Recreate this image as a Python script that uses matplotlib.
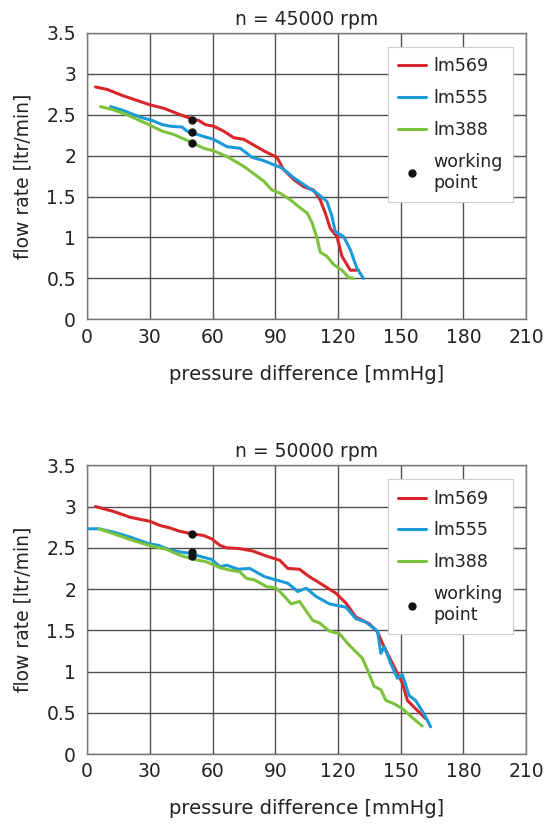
import matplotlib
matplotlib.use('Agg')
import matplotlib.pyplot as plt

plt.rcParams['font.family'] = ['DejaVu Sans']

# ---- n = 45000 rpm ----
x569_45 = [4.0, 9.6, 17.5, 30.3, 36.6, 44.6, 50.2, 53.4, 56.5, 60.5, 65.3, 70.1, 74.9, 79.7,
           85.2, 90.8, 94.0, 98.8, 103.6, 108.3, 111.5, 113.9, 116.3, 119.5, 121.9, 125.9, 129.9]
y569_45 = [2.84, 2.81, 2.73, 2.62, 2.58, 2.50, 2.45, 2.43, 2.38, 2.36, 2.30, 2.22, 2.20, 2.13,
           2.05, 1.98, 1.83, 1.71, 1.62, 1.58, 1.46, 1.30, 1.11, 1.01, 0.77, 0.60, 0.60]

x555_45 = [11.2, 17.5, 25.5, 31.1, 35.9, 39.8, 45.4, 47.8, 50.2, 55.0, 60.5, 66.9, 73.3, 78.9,
           84.4, 89.2, 93.2, 98.8, 105.2, 110.0, 114.7, 117.1, 118.7, 122.7, 125.9, 129.1, 132.2]
y555_45 = [2.60, 2.55, 2.47, 2.43, 2.38, 2.36, 2.35, 2.30, 2.28, 2.24, 2.20, 2.11, 2.09, 1.98,
           1.94, 1.89, 1.85, 1.73, 1.62, 1.54, 1.44, 1.26, 1.07, 1.01, 0.85, 0.62, 0.50]

x388_45 = [6.4, 12.7, 19.1, 30.3, 35.9, 41.4, 50.2, 55.8, 60.5, 66.9, 74.9, 78.1, 84.4, 88.4,
           92.4, 97.2, 102.0, 105.2, 107.6, 110.0, 111.5, 114.7, 117.9, 121.9, 125.1, 127.5]
y388_45 = [2.60, 2.56, 2.50, 2.37, 2.30, 2.26, 2.16, 2.09, 2.06, 1.99, 1.87, 1.81, 1.69, 1.58,
           1.54, 1.46, 1.36, 1.30, 1.18, 0.99, 0.82, 0.77, 0.67, 0.60, 0.51, 0.50]

wp_x_45 = [50, 50, 50]
wp_y_45 = [2.44, 2.29, 2.16]

# ---- n = 50000 rpm ----
x569_50 = [4.0, 12.7, 20.6, 30.2, 34.9, 39.7, 44.4, 50.0, 55.6, 59.5, 63.5, 66.7, 73.0, 79.4,
           85.7, 92.1, 96.0, 101.6, 106.3, 112.7, 119.0, 123.8, 128.6, 134.9, 138.9, 141.3,
           144.4, 147.6, 150.8, 153.2, 157.1, 161.9]
y569_50 = [3.00, 2.94, 2.87, 2.82, 2.77, 2.74, 2.70, 2.67, 2.65, 2.61, 2.53, 2.50, 2.49, 2.46,
           2.40, 2.35, 2.25, 2.24, 2.15, 2.05, 1.95, 1.83, 1.66, 1.58, 1.48, 1.34,
           1.18, 1.02, 0.86, 0.65, 0.55, 0.43]

x555_50 = [0.0, 5.6, 12.7, 20.6, 29.4, 34.1, 38.9, 44.4, 50.0, 54.8, 59.5, 63.5, 66.7, 72.2,
           77.8, 84.9, 90.5, 96.0, 100.8, 104.8, 109.5, 115.9, 123.8, 128.6, 133.3, 138.9,
           140.5, 142.1, 145.2, 148.4, 150.8, 154.0, 157.1, 161.1, 164.3]
y555_50 = [2.73, 2.73, 2.69, 2.63, 2.55, 2.53, 2.48, 2.45, 2.43, 2.39, 2.36, 2.27, 2.29, 2.24,
           2.25, 2.15, 2.11, 2.07, 1.97, 2.01, 1.91, 1.82, 1.78, 1.64, 1.60, 1.49,
           1.22, 1.30, 1.10, 0.92, 0.96, 0.71, 0.65, 0.49, 0.33]

x388_50 = [5.6, 12.7, 20.6, 29.4, 38.1, 44.4, 50.8, 57.1, 63.5, 68.3, 73.0, 76.2, 80.2, 85.7,
           90.5, 93.7, 97.6, 101.6, 107.9, 111.1, 115.9, 120.6, 125.4, 131.7, 134.1, 137.3,
           140.5, 142.9, 146.8, 150.8, 155.6, 160.3]
y388_50 = [2.73, 2.67, 2.60, 2.53, 2.48, 2.41, 2.36, 2.33, 2.26, 2.23, 2.21, 2.13, 2.11, 2.03,
           2.01, 1.93, 1.82, 1.85, 1.62, 1.59, 1.49, 1.46, 1.32, 1.16, 1.02, 0.82,
           0.78, 0.65, 0.61, 0.55, 0.44, 0.34]

wp_x_50 = [50, 50, 50]
wp_y_50 = [2.67, 2.45, 2.40]

x_ticks = [0, 30, 60, 90, 120, 150, 180, 210]
y_ticks = [0, 0.5, 1, 1.5, 2, 2.5, 3, 3.5]
y_tick_labels = ['0', '0.5', '1', '1.5', '2', '2.5', '3', '3.5']

RED = '#d8262a'
BLUE = '#1b9ad8'
GREEN = '#7cc23d'


def draw_panel(ax, title, curves, wp_x, wp_y):
    for (x, y, color, label) in curves:
        ax.plot(x, y, color=color, lw=2.2, label=label, zorder=3,
                solid_joinstyle='round', solid_capstyle='round')
    ax.plot(wp_x, wp_y, 'o', color='#111111', ms=5, ls='none', label='working\npoint', zorder=4)

    ax.set_xlim(0, 210)
    ax.set_ylim(0, 3.5)
    ax.set_xticks(x_ticks)
    ax.set_yticks(y_ticks)
    ax.set_yticklabels(y_tick_labels)
    ax.tick_params(length=0, labelsize=13.5, colors='#222222')
    ax.tick_params(axis='y', pad=8)
    ax.tick_params(axis='x', pad=6)
    ax.grid(True, color='#505050', lw=1.0)
    ax.set_axisbelow(True)
    for s in ax.spines.values():
        s.set_color('#777777')
        s.set_linewidth(1.0)

    ax.set_title(title, fontsize=13.5, color='#222222', pad=6)
    ax.set_xlabel('pressure difference [mmHg]', fontsize=14, color='#222222', labelpad=13)
    ax.set_ylabel('flow rate [ltr/min]', fontsize=13.5, color='#222222', labelpad=10)

    leg = ax.legend(loc='upper right', bbox_to_anchor=(0.970, 0.952), fontsize=12.5,
                    frameon=True, fancybox=False, framealpha=1, edgecolor='#cccccc',
                    handlelength=1.6, handletextpad=0.4, labelspacing=0.8,
                    borderpad=0.6, numpoints=1, borderaxespad=0)
    leg.get_frame().set_linewidth(0.8)
    for t in leg.get_texts():
        t.set_color('#222222')
    return ax


fig = plt.figure(figsize=(5.55, 8.25), dpi=100)
ax1 = fig.add_axes([0.157, 0.613, 0.791, 0.347])
ax2 = fig.add_axes([0.157, 0.086, 0.791, 0.350])

draw_panel(ax1, 'n = 45000 rpm',
           [(x569_45, y569_45, RED, 'lm569'),
            (x555_45, y555_45, BLUE, 'lm555'),
            (x388_45, y388_45, GREEN, 'lm388')],
           wp_x_45, wp_y_45)

draw_panel(ax2, 'n = 50000 rpm',
           [(x569_50, y569_50, RED, 'lm569'),
            (x555_50, y555_50, BLUE, 'lm555'),
            (x388_50, y388_50, GREEN, 'lm388')],
           wp_x_50, wp_y_50)

fig.savefig('out.png', dpi=100)
